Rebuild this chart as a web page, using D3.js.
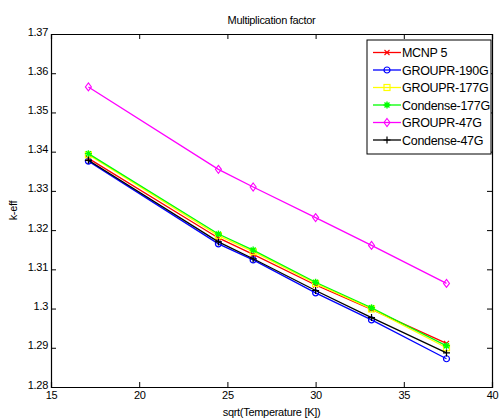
<!DOCTYPE html>
<html>
<head>
<meta charset="utf-8">
<script src="https://cdn.jsdelivr.net/npm/d3@7"></script>
<style>
    body { margin: 0; background: #fff; }
    svg text { font-family: "Liberation Sans", Arial, sans-serif; fill: #000; letter-spacing: -0.3px; }
</style>
</head>
<body>
<div id="svg"></div>
<script>
// sqrt of temperatures (K)
const sqrtTemp = [17.12, 24.49, 26.46, 30.0, 33.17, 37.42];

const mcnp5 = [1.3383, 1.3180, 1.3138, 1.3060, 1.2998, 1.2911];
const groupr190 = [1.3376, 1.3165, 1.3124, 1.3040, 1.2971, 1.2872];
const groupr177 = [1.3392, 1.3186, 1.3145, 1.3064, 1.2999, 1.2900];
const condense177 = [1.3395, 1.3190, 1.3149, 1.3067, 1.3002, 1.2905];
const groupr47 = [1.3565, 1.3355, 1.3310, 1.3232, 1.3161, 1.3064];
const condense47 = [1.3378, 1.3170, 1.3127, 1.3046, 1.2977, 1.2887];

const seriesNames = ["MCNP 5", "GROUPR-190G", "GROUPR-177G", "Condense-177G", "GROUPR-47G", "Condense-47G"];
const xTicks = [15, 20, 25, 30, 35, 40];
const yTicks = [1.28, 1.29, 1.3, 1.31, 1.32, 1.33, 1.34, 1.35, 1.36, 1.37];

const series = [
    {name: seriesNames[0], values: mcnp5, color: "#ff0000", marker: "x"},
    {name: seriesNames[1], values: groupr190, color: "#0000ff", marker: "o"},
    {name: seriesNames[2], values: groupr177, color: "#ffff00", marker: "s"},
    {name: seriesNames[3], values: condense177, color: "#00ff00", marker: "*"},
    {name: seriesNames[4], values: groupr47, color: "#ff00ff", marker: "d"},
    {name: seriesNames[5], values: condense47, color: "#000000", marker: "+"}
];

let margin = {top: 34, right: 7, bottom: 32, left: 51},
    width = 499 - margin.left - margin.right,
    height = 419 - margin.top - margin.bottom;

let root = d3.select("#svg")
    .append("svg")
    .attr("width", 499)
    .attr("height", 419);

let svg = root.append("g")
    .attr("transform", "translate(" + margin.left + "," + margin.top + ")");

let x = d3.scaleLinear().domain([15, 40]).range([0, width]);
let y = d3.scaleLinear().domain([1.28, 1.37]).range([height, 0]);

// draw a marker of given type centred at (0,0)
function drawMarker(g, type, color) {
    let r = 3;
    if (type === "x") {
        g.append("path").attr("d", `M${-2.5},${-2.5}L2.5,2.5M${-2.5},2.5L2.5,${-2.5}`)
            .attr("stroke", color).attr("stroke-width", 1.1);
    } else if (type === "o") {
        g.append("circle").attr("r", r).attr("fill", "none")
            .attr("stroke", color).attr("stroke-width", 1.2);
    } else if (type === "s") {
        g.append("rect").attr("x", -r).attr("y", -r).attr("width", 2 * r).attr("height", 2 * r)
            .attr("fill", "none").attr("stroke", color).attr("stroke-width", 1.2);
    } else if (type === "*") {
        g.append("path").attr("d", "M-3.5,0H3.5M0,-3.5V3.5M-2.5,-2.5L2.5,2.5M-2.5,2.5L2.5,-2.5")
            .attr("stroke", color).attr("stroke-width", 1.4);
    } else if (type === "d") {
        g.append("path").attr("d", "M0,-4L3,0L0,4L-3,0Z").attr("fill", "none")
            .attr("stroke", color).attr("stroke-width", 1.1);
    } else if (type === "+") {
        g.append("path").attr("d", "M-3.5,0H3.5M0,-3.5V3.5")
            .attr("stroke", color).attr("stroke-width", 1.2);
    }
}

// axes with inward ticks, MATLAB style box
const tickLen = 5;
svg.append("g")
    .attr("transform", "translate(0," + height + ")")
    .call(d3.axisBottom(x).tickValues(xTicks).tickSize(-tickLen).tickPadding(4).tickFormat(d3.format("d")))
    .call(g => g.selectAll("text").attr("font-size", 11).attr("dy", "0.75em"));
svg.append("g")
    .call(d3.axisLeft(y).tickValues(yTicks).tickSize(-tickLen).tickPadding(3).tickFormat(d => d3.format("")(+d.toFixed(2))))
    .call(g => g.selectAll("text").attr("font-size", 11).attr("dy", "0.1em"));
svg.append("g")
    .call(d3.axisTop(x).tickValues(xTicks).tickSize(-tickLen).tickFormat(""));
svg.append("g")
    .attr("transform", "translate(" + width + ",0)")
    .call(d3.axisRight(y).tickValues(yTicks).tickSize(-tickLen).tickFormat(""));
svg.selectAll(".domain").attr("stroke", "#000").attr("stroke-width", 1.2);
svg.selectAll(".tick line").attr("stroke", "#000");

let line = d3.line()
    .x((d, i) => x(sqrtTemp[i]))
    .y(d => y(d));

// draw series
series.forEach(s => {
    svg.append("path")
        .attr("d", line(s.values))
        .attr("fill", "none")
        .attr("stroke", s.color)
        .attr("stroke-width", 1.3);
    s.values.forEach((v, i) => {
        let g = svg.append("g").attr("transform", `translate(${x(sqrtTemp[i])},${y(v)})`);
        drawMarker(g, s.marker, s.color);
    });
});

// legend
let legend = svg.append("g").attr("transform", "translate(" + (367 - margin.left) + "," + (40 - margin.top) + ")");
legend.append("rect")
    .attr("width", 124).attr("height", 114)
    .attr("fill", "#fff").attr("stroke", "#000").attr("stroke-width", 1);
series.forEach((s, i) => {
    let ly = 12.5 + i * 17.5;
    legend.append("line")
        .attr("x1", 6).attr("x2", 34).attr("y1", ly).attr("y2", ly)
        .attr("stroke", s.color).attr("stroke-width", 1.3);
    let g = legend.append("g").attr("transform", `translate(20,${ly})`);
    drawMarker(g, s.marker, s.color);
    legend.append("text")
        .attr("x", 35).attr("y", ly).attr("dy", "0.36em")
        .attr("font-size", 12.5)
        .text(s.name);
});

// title and labels
root.append("text")
    .attr("x", margin.left + width / 2).attr("y", 24)
    .attr("text-anchor", "middle").attr("font-size", 11)
    .text("Multiplication factor");
root.append("text")
    .attr("x", margin.left + width / 2).attr("y", 416)
    .attr("text-anchor", "middle").attr("font-size", 11)
    .text("sqrt(Temperature [K])");
root.append("text")
    .attr("transform", "translate(17," + (margin.top + height / 2) + ") rotate(-90)")
    .attr("text-anchor", "middle").attr("font-size", 11)
    .text("k-eff");
</script>
</body>
</html>
